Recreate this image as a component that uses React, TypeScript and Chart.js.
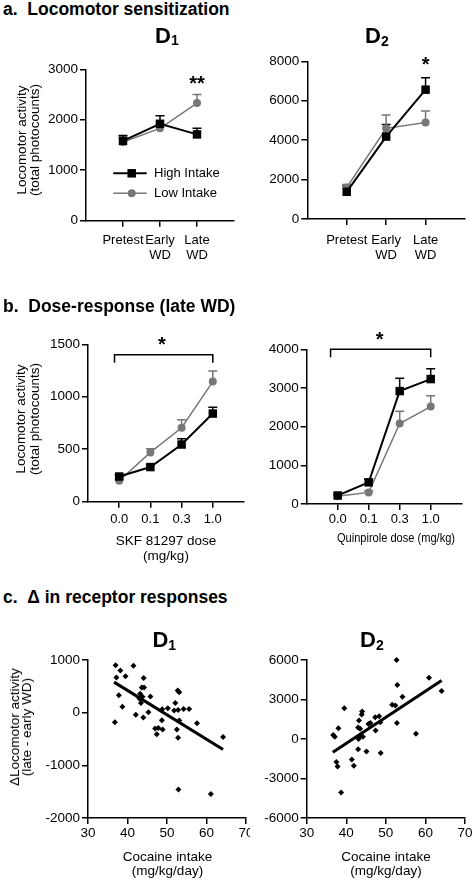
import React, { useEffect, useRef } from 'react';
import { Chart, registerables } from 'chart.js';

Chart.register(...registerables);

const FONT = "'Liberation Sans', Arial, Helvetica, sans-serif";
const INK = '#000000';
const GREY = '#777777';

// ---------- a. Locomotor sensitization ----------
const sensCategories: (string | string[])[] = ['Pretest', ['Early', 'WD'], ['Late', 'WD']];
const sensD1High = [1580, 1920, 1710];
const sensD1HighSem = [110, 160, 120];
const sensD1Low = [1560, 1830, 2330];
const sensD1LowSem = [100, 80, 170];
const sensD1Ticks = [0, 1000, 2000, 3000];
const sensD1Stars = [{ x: 3, y: 2790, text: '**' }];

const sensD2High = [1380, 4180, 6560];
const sensD2HighSem = [300, 620, 600];
const sensD2Low = [1600, 4600, 4900];
const sensD2LowSem = [150, 670, 580];
const sensD2Ticks = [0, 2000, 4000, 6000, 8000];
const sensD2Stars = [{ x: 3, y: 8000, text: '*' }];

// ---------- b. Dose-response (late WD) ----------
const doseLabels = ['0.0', '0.1', '0.3', '1.0'];
const skfHigh = [240, 330, 545, 840];
const skfHighSem = [20, 20, 55, 60];
const skfLow = [200, 470, 705, 1145];
const skfLowSem = [15, 35, 75, 100];
const skfTicks = [0, 500, 1000, 1500];
const skfStars = [{ x: 2.37, y: 1530, text: '*' }];
const skfBrackets = [{ from: 0.85, to: 4, y: 1400 }];

const quinHigh = [220, 560, 2920, 3230];
const quinHighSem = [40, 80, 330, 270];
const quinLow = [200, 300, 2080, 2520];
const quinLowSem = [30, 40, 320, 280];
const quinTicks = [0, 1000, 2000, 3000, 4000];
const quinStars = [{ x: 2.35, y: 4350, text: '*' }];
const quinBrackets = [{ from: 0.77, to: 4, y: 4000 }];

// ---------- c. Delta in receptor responses ----------
const cocaineTicks = [30, 40, 50, 60, 70];
const d1Intake = [36.8, 37.0, 37.2, 37.8, 38.2, 38.7, 39.5, 41.5, 42.1, 43.0, 43.2, 43.4, 43.6, 44.2, 44.1, 43.8, 44.0, 45.3, 45.8, 47.0, 47.4, 47.8, 48.7, 48.9, 48.8, 50.2, 51.8, 52.1, 52.7, 53.1, 52.8, 53.1, 52.5, 52.8, 54.2, 55.6, 57.6, 64.2, 52.9, 61.1];
const d1Delta = [-180, 900, 670, 330, 800, 110, 690, 890, -40, 270, 360, 185, 480, 480, 660, 300, -90, 10, 306, -300, -410, -290, -145, -320, 65, 84, 40, 185, 420, 390, 50, -150, -320, -475, 70, 70, -200, -460, -1460, -1545];
const d1FitIntake = [36.6, 64.2];
const d1FitDelta = [580, -700];
const d1Ticks = [-2000, -1000, 0, 1000];

const d2Intake = [52.7, 60.9, 64.1, 52.9, 54.2, 51.6, 52.4, 39.5, 44.0, 43.9, 43.2, 47.3, 48.3, 48.6, 45.6, 52.8, 38.0, 47.4, 43.5, 43.5, 44.2, 43.1, 36.7, 37.1, 57.6, 43.0, 45.1, 48.7, 41.4, 41.9, 37.5, 37.8, 38.7, 46.1, 43.0];
const d2Delta = [6000, 4650, 3640, 4100, 3200, 2600, 2550, 2340, 2080, 1860, 1400, 1650, 1730, 1270, 1140, 1220, 820, 650, 780, 250, 180, 0, 300, 170, 400, -780, -950, -1060, -1560, -2030, -1750, -2080, -4060, 1220, 870];
const d2FitIntake = [36.6, 64.1];
const d2FitDelta = [-1000, 4450];
const d2Ticks = [-6000, -3000, 0, 3000, 6000];

// ---------- helpers ----------
const tickFont = { family: FONT, size: 13.5, lineHeight: 1.11 };
const catFont = { family: FONT, size: 13, lineHeight: 1.15 };

function axisLook() {
  return {
    grid: { display: true, drawOnChartArea: false, drawTicks: true, tickLength: 6, color: INK, lineWidth: 1.5 },
    border: { display: true, color: INK, width: 1.5 },
  };
}

function valueAxis(ticks: number[], pad: number) {
  return {
    type: 'linear',
    min: ticks[0],
    max: ticks[ticks.length - 1],
    afterBuildTicks: (s: any) => {
      s.ticks = ticks.map((v) => ({ value: v }));
    },
    ticks: { color: INK, font: tickFont, padding: pad, autoSkip: false, maxRotation: 0, callback: (v: any) => String(v) },
    ...axisLook(),
  };
}

function categoryAxis(labels: (string | string[])[], pad: number) {
  return {
    type: 'linear',
    min: 0,
    max: labels.length + 1,
    afterBuildTicks: (s: any) => {
      s.ticks = labels.map((_, i) => ({ value: i + 1 }));
    },
    ticks: {
      color: INK,
      font: catFont,
      padding: pad,
      autoSkip: false,
      maxRotation: 0,
      callback: (v: any) => labels[Math.round(v) - 1] ?? '',
    },
    ...axisLook(),
  };
}

function groupDatasets(high: number[], low: number[]) {
  return [
    {
      label: 'High Intake',
      data: high.map((v, i) => ({ x: i + 1, y: v })),
      showLine: true,
      clip: false,
      borderColor: INK,
      backgroundColor: INK,
      borderWidth: 2,
      pointStyle: 'rect',
      pointRadius: 6,
      pointBorderWidth: 0,
      pointBackgroundColor: INK,
    },
    {
      label: 'Low Intake',
      data: low.map((v, i) => ({ x: i + 1, y: v })),
      showLine: true,
      clip: false,
      borderColor: GREY,
      backgroundColor: GREY,
      borderWidth: 1.5,
      pointStyle: 'circle',
      pointRadius: 4,
      pointBorderWidth: 0,
      pointBackgroundColor: GREY,
    },
  ];
}

type Marks = {
  bars?: { mean: number[]; sem: number[]; color: string }[];
  stars?: { x: number; y: number; text: string }[];
  brackets?: { from: number; to: number; y: number }[];
  legend?: boolean;
};

function marksPlugin(spec: Marks) {
  return {
    id: 'marks',
    beforeDatasetsDraw(chart: any) {
      const { ctx } = chart;
      const xs = chart.scales.x;
      const ys = chart.scales.y;
      ctx.save();
      (spec.bars || []).forEach((b) => {
        ctx.strokeStyle = b.color;
        ctx.lineWidth = 1.5;
        b.mean.forEach((m, i) => {
          const px = xs.getPixelForValue(i + 1);
          const py = ys.getPixelForValue(m);
          const pt = ys.getPixelForValue(m + b.sem[i]);
          ctx.beginPath();
          ctx.moveTo(px, py);
          ctx.lineTo(px, pt);
          ctx.moveTo(px - 4.5, pt);
          ctx.lineTo(px + 4.5, pt);
          ctx.stroke();
        });
      });
      ctx.restore();
    },
    afterDatasetsDraw(chart: any) {
      const { ctx, chartArea: ca } = chart;
      const xs = chart.scales.x;
      const ys = chart.scales.y;
      ctx.save();
      ctx.strokeStyle = INK;
      ctx.fillStyle = INK;
      ctx.lineWidth = 1.5;
      (spec.brackets || []).forEach((br) => {
        const x1 = xs.getPixelForValue(br.from);
        const x2 = xs.getPixelForValue(br.to);
        const y = ys.getPixelForValue(br.y);
        ctx.beginPath();
        ctx.moveTo(x1, y + 8);
        ctx.lineTo(x1, y);
        ctx.lineTo(x2, y);
        ctx.lineTo(x2, y + 8);
        ctx.stroke();
      });
      (spec.stars || []).forEach((s) => {
        ctx.font = `bold 20px ${FONT}`;
        ctx.textAlign = 'center';
        ctx.textBaseline = 'alphabetic';
        const m = ctx.measureText(s.text);
        const off = (m.actualBoundingBoxAscent - m.actualBoundingBoxDescent) / 2;
        ctx.fillText(s.text, xs.getPixelForValue(s.x), ys.getPixelForValue(s.y) + off);
      });
      if (spec.legend) {
        const rows = [
          { text: 'High Intake', color: INK, width: 2, shape: 'rect' },
          { text: 'Low Intake', color: GREY, width: 1.5, shape: 'circle' },
        ];
        rows.forEach((r, i) => {
          const y = ca.top + 104 + i * 20;
          ctx.strokeStyle = r.color;
          ctx.fillStyle = r.color;
          ctx.lineWidth = r.width;
          ctx.beginPath();
          ctx.moveTo(ca.left + 27.3, y);
          ctx.lineTo(ca.left + 60.7, y);
          ctx.stroke();
          const mx = ca.left + 45.7;
          ctx.beginPath();
          if (r.shape === 'rect') ctx.rect(mx - 4.25, y - 4.25, 8.5, 8.5);
          else ctx.arc(mx, y, 4, 0, Math.PI * 2);
          ctx.fill();
          ctx.fillStyle = INK;
          ctx.font = `13px ${FONT}`;
          ctx.textAlign = 'left';
          ctx.textBaseline = 'middle';
          ctx.fillText(r.text, ca.left + 68, y);
        });
      }
      ctx.restore();
    },
  };
}

type Box = { x: number; y: number; w: number; h: number };
type Area = { l: number; t: number; r: number; b: number };

function ChartPanel({ box, area, build }: { box: Box; area: Area; build: () => any }) {
  const ref = useRef<HTMLCanvasElement>(null);
  useEffect(() => {
    const cfg = build();
    const yW = area.l - box.x;
    const xH = box.y + box.h - area.b;
    cfg.options.layout = {
      padding: { left: 0, top: area.t - box.y, right: box.x + box.w - area.r, bottom: 0 },
    };
    const zeroPad = (s: any) => {
      s.paddingTop = 0;
      s.paddingBottom = 0;
      s.paddingLeft = 0;
      s.paddingRight = 0;
    };
    cfg.options.scales.x.afterFit = (s: any) => {
      s.height = xH;
      zeroPad(s);
    };
    cfg.options.scales.y.afterFit = (s: any) => {
      s.width = yW;
      zeroPad(s);
    };
    const chart = new Chart(ref.current as HTMLCanvasElement, cfg);
    return () => chart.destroy();
  }, []);
  return (
    <canvas
      ref={ref}
      width={box.w}
      height={box.h}
      style={{ position: 'absolute', left: box.x, top: box.y, width: box.w, height: box.h, display: 'block' }}
    />
  );
}

function baseOptions(x: any, y: any) {
  return {
    responsive: false,
    animation: false,
    events: [],
    plugins: { legend: { display: false }, tooltip: { enabled: false }, title: { display: false } },
    scales: { x, y },
  };
}

function groupChart(
  high: number[], highSem: number[], low: number[], lowSem: number[],
  labels: (string | string[])[], ticks: number[], xPad: number,
  extra: Marks,
) {
  return () => ({
    type: 'scatter',
    data: { datasets: groupDatasets(high, low) },
    options: baseOptions(categoryAxis(labels, xPad), valueAxis(ticks, 2)),
    plugins: [
      marksPlugin({
        bars: [
          { mean: low, sem: lowSem, color: GREY },
          { mean: high, sem: highSem, color: INK },
        ],
        ...extra,
      }),
    ],
  });
}

function scatterChart(xs: number[], ys: number[], fx: number[], fy: number[], yTicks: number[]) {
  return () => ({
    type: 'scatter',
    data: {
      datasets: [
        {
          label: 'Fit',
          data: fx.map((x, i) => ({ x, y: fy[i] })),
          showLine: true,
          clip: false,
          borderColor: INK,
          borderWidth: 3,
          pointRadius: 0,
        },
        {
          label: 'Rats',
          data: xs.map((x, i) => ({ x, y: ys[i] })),
          clip: false,
          pointStyle: 'rectRot',
          pointRadius: 3,
          pointBorderWidth: 0,
          pointBackgroundColor: INK,
          backgroundColor: INK,
          borderColor: INK,
        },
      ],
    },
    options: baseOptions(valueAxis(cocaineTicks, 1.5), valueAxis(yTicks, 2)),
  });
}

// ---------- text helpers ----------
function Heading({ top, text }: { top: number; text: string }) {
  return (
    <div style={{ position: 'absolute', left: 3, top, fontFamily: FONT, fontWeight: 700, fontSize: 17.5, lineHeight: '18px', whiteSpace: 'pre', color: INK }}>
      {text}
    </div>
  );
}

function DTitle({ left, top, sub }: { left: number; top: number; sub: string }) {
  return (
    <div style={{ position: 'absolute', left, top, fontFamily: FONT, fontWeight: 700, fontSize: 22, lineHeight: '24px', whiteSpace: 'nowrap', color: INK }}>
      D<span style={{ fontSize: 14, position: 'relative', top: 2.5 }}>{sub}</span>
    </div>
  );
}

function VTitle({ cx, cy, lines, lh }: { cx: number; cy: number; lines: string[]; lh: number }) {
  return (
    <div style={{ position: 'absolute', left: cx, top: cy, transform: 'translate(-50%, -50%) rotate(-90deg)', fontFamily: FONT, fontSize: 13.5, lineHeight: `${lh}px`, textAlign: 'center', whiteSpace: 'nowrap', color: INK }}>
      {lines.map((l, i) => (
        <div key={i}>{l}</div>
      ))}
    </div>
  );
}

function HTitle({ cx, cy, lines, lh, sx = 1 }: { cx: number; cy: number; lines: string[]; lh: number; sx?: number }) {
  return (
    <div style={{ position: 'absolute', left: cx, top: cy, transform: `translate(-50%, -50%) scaleX(${sx})`, fontFamily: FONT, fontSize: 13.5, lineHeight: `${lh}px`, textAlign: 'center', whiteSpace: 'nowrap', color: INK }}>
      {lines.map((l, i) => (
        <div key={i}>{l}</div>
      ))}
    </div>
  );
}

export default function App() {
  return (
    <div style={{ position: 'absolute', left: 0, top: 0, width: 473, height: 881, background: '#ffffff', overflow: 'hidden' }}>
      <ChartPanel
        box={{ x: 0, y: 40, w: 240, h: 232 }}
        area={{ l: 86, t: 69.3, r: 238, b: 220.7 }}
        build={groupChart(sensD1High, sensD1HighSem, sensD1Low, sensD1LowSem, sensCategories, sensD1Ticks, 6, { stars: sensD1Stars, legend: true })}
      />
      <ChartPanel
        box={{ x: 240, y: 40, w: 233, h: 232 }}
        area={{ l: 307.3, t: 61.3, r: 465, b: 219 }}
        build={groupChart(sensD2High, sensD2HighSem, sensD2Low, sensD2LowSem, sensCategories, sensD2Ticks, 8, { stars: sensD2Stars })}
      />
      <ChartPanel
        box={{ x: 0, y: 315, w: 250, h: 255 }}
        area={{ l: 88, t: 344.3, r: 247, b: 501.7 }}
        build={groupChart(skfHigh, skfHighSem, skfLow, skfLowSem, doseLabels, skfTicks, 4, { stars: skfStars, brackets: skfBrackets })}
      />
      <ChartPanel
        box={{ x: 240, y: 315, w: 233, h: 255 }}
        area={{ l: 306.7, t: 349.3, r: 461.7, b: 504 }}
        build={groupChart(quinHigh, quinHighSem, quinLow, quinLowSem, doseLabels, quinTicks, 2, { stars: quinStars, brackets: quinBrackets })}
      />
      <ChartPanel
        box={{ x: 0, y: 645, w: 250, h: 236 }}
        area={{ l: 88, t: 660, r: 246.5, b: 818 }}
        build={scatterChart(d1Intake, d1Delta, d1FitIntake, d1FitDelta, d1Ticks)}
      />
      <ChartPanel
        box={{ x: 240, y: 645, w: 233, h: 236 }}
        area={{ l: 306.7, t: 660, r: 465, b: 818 }}
        build={scatterChart(d2Intake, d2Delta, d2FitIntake, d2FitDelta, d2Ticks)}
      />

      <Heading top={0} text={'a.  Locomotor sensitization'} />
      <Heading top={297} text={'b.  Dose-response (late WD)'} />
      <Heading top={587.7} text={'c.  \u0394 in receptor responses'} />

      <DTitle left={155} top={23.8} sub="1" />
      <DTitle left={365} top={24.3} sub="2" />
      <DTitle left={152.4} top={628.3} sub="1" />
      <DTitle left={360} top={628.3} sub="2" />

      <VTitle cx={28} cy={140} lines={['Locomotor activity', '(total photocounts)']} lh={13} />
      <VTitle cx={27.5} cy={419} lines={['Locomotor activity', '(total photocounts)']} lh={14} />
      <VTitle cx={21} cy={727} lines={['\u0394Locomotor activity', '(late - early WD)']} lh={12} />

      <HTitle cx={166} cy={547.5} lines={['SKF 81297 dose', '(mg/kg)']} lh={15} />
      <HTitle cx={396} cy={536.7} lines={['Quinpirole dose (mg/kg)']} lh={15} sx={0.82} />
      <HTitle cx={167.5} cy={863.7} lines={['Cocaine intake', '(mg/kg/day)']} lh={14} />
      <HTitle cx={386} cy={863.7} lines={['Cocaine intake', '(mg/kg/day)']} lh={14} />
    </div>
  );
}
